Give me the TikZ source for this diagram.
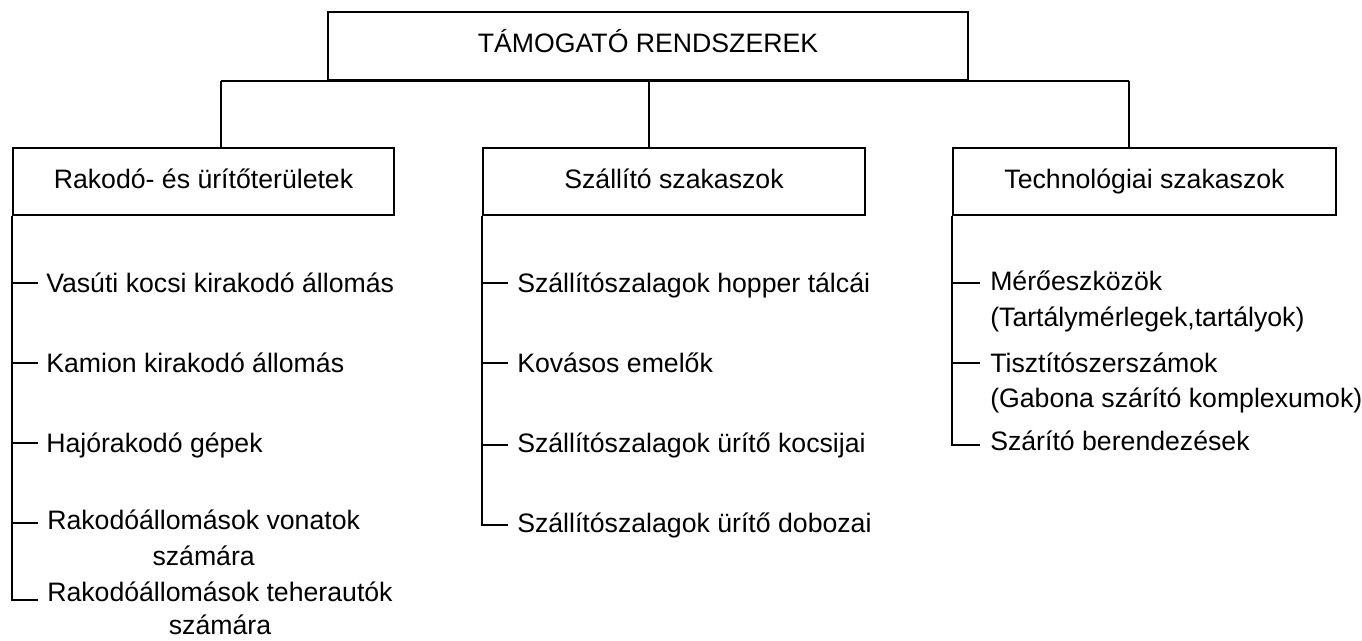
\documentclass[tikz,border=0pt]{standalone}
\usepackage{fontspec}
\setmainfont{Liberation Sans}
\begin{document}
\begin{tikzpicture}[x=0.75pt,y=-0.75pt,
  every node/.style={font=\fontsize{20}{25.5}\selectfont},
  box/.style={draw,line width=1.5pt,inner sep=0pt,text height=14.5pt,text depth=4.5pt},
  ln/.style={line width=1.5pt},
  item/.style={anchor=base west,inner sep=0pt}]
\useasboundingbox (0,0) rectangle (1362,640);
% boxes
\node[box,minimum width=480pt,minimum height=51pt] (top) at (648,46) {TÁMOGATÓ RENDSZEREK};
\node[box,minimum width=285.75pt,minimum height=50.25pt] (L) at (203.5,181.5) {Rakodó- és ürítőterületek};
\node[box,minimum width=286.5pt,minimum height=50.25pt] (M) at (674,181.5) {Szállító szakaszok};
\node[box,minimum width=287.25pt,minimum height=50.25pt] (R) at (1144.5,181.5) {Technológiai szakaszok};
% junctions
\coordinate (jL) at (221,80.5);
\coordinate (jM) at (649,80.5);
\coordinate (jR) at (1129,80.5);
\draw[ln] (jL) -- (jR);
\draw[ln] (jL) -- (jL |- L.north);
\draw[ln] (jM) -- (jM |- M.north);
\draw[ln] (jR) -- (jR |- R.north);
% left items
\coordinate (a1) at (38,283);
\coordinate (a2) at (38,363);
\coordinate (a3) at (38,443);
\coordinate (a4) at (38,523);
\coordinate (a5) at (38,600);
\node[item] (A1) at (46,292) {Vasúti kocsi kirakodó állomás};
\node[item] (A2) at (46,372) {Kamion kirakodó állomás};
\node[item] (A3) at (46,452) {Hajórakodó gépek};
\node[item] (A4) at (47,529) {\def\arraystretch{1.06}\begin{tabular}[t]{@{}c@{}}Rakodóállomások vonatok\\számára\end{tabular}};
\node[item] (A5) at (47,601) {\def\arraystretch{0.98}\begin{tabular}[t]{@{}c@{}}Rakodóállomások teherautók\\számára\end{tabular}};
\draw[ln] (L.south west) |- (a5);
\foreach \c in {a1,a2,a3,a4} \draw[ln] (L.south west |- \c) -- (\c);
% middle items
\coordinate (b1) at (508,283);
\coordinate (b2) at (508,363);
\coordinate (b3) at (508,445);
\coordinate (b4) at (508,525);
\node[item] (B1) at (517,292) {Szállítószalagok hopper tálcái};
\node[item] (B2) at (517,372) {Kovásos emelők};
\node[item] (B3) at (517,452) {Szállítószalagok ürítő kocsijai};
\node[item] (B4) at (517,532) {Szállítószalagok ürítő dobozai};
\draw[ln] (M.south west) |- (b4);
\foreach \c in {b1,b2,b3} \draw[ln] (M.south west |- \c) -- (\c);
% right items
\coordinate (c1) at (980,283);
\coordinate (c2) at (980,363);
\coordinate (c3) at (980,445);
\node[item] (C1) at (990,290) {\def\arraystretch{1.06}\begin{tabular}[t]{@{}l@{}}Mérőeszközök\\(Tartálymérlegek,tartályok)\end{tabular}};
\node[item] (C2) at (990,372) {\def\arraystretch{1.04}\begin{tabular}[t]{@{}l@{}}Tisztítószerszámok\\(Gabona szárító komplexumok)\end{tabular}};
\node[item] (C3) at (990,450) {Szárító berendezések};
\draw[ln] (R.south west) |- (c3);
\foreach \c in {c1,c2} \draw[ln] (R.south west |- \c) -- (\c);
\end{tikzpicture}
\end{document}
